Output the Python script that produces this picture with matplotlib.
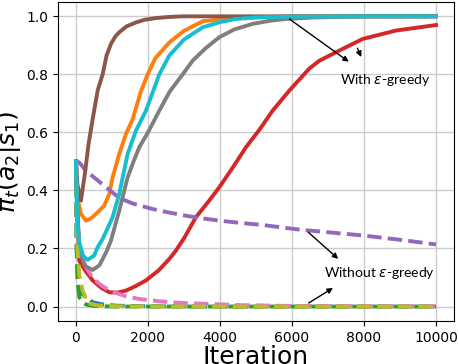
import matplotlib
matplotlib.use("Agg")
import matplotlib.pyplot as plt

# ---- data ----
# without epsilon-greedy (dashed)
blue_x = [0, 20, 46, 120, 278, 463, 700, 1111, 2000, 4000, 7000, 10000]
blue_y = [0.5, 0.2, 0.078, 0.05, 0.032, 0.015, 0.008, 0.003, 0.001, 0.0, 0.0, 0.0]
green_x = [0, 20, 60, 93, 180, 278, 500, 1000, 3000, 10000]
green_y = [0.5, 0.2, 0.07, 0.032, 0.015, 0.007, 0.002, 0.0, 0.0, 0.0]
purple_x = [0, 100, 278, 648, 1203, 1574, 2130, 2500, 3055, 3500, 3981, 4500, 5185, 6204, 7000, 7962, 9000, 10000]
purple_y = [0.503, 0.495, 0.468, 0.430, 0.374, 0.355, 0.336, 0.326, 0.313, 0.304, 0.296, 0.289, 0.281, 0.265, 0.256, 0.245, 0.230, 0.214]
pink_x = [0, 40, 93, 278, 463, 648, 926, 1389, 1759, 2315, 3000, 3704, 4500, 6000, 8000, 10000]
pink_y = [0.5, 0.33, 0.2, 0.135, 0.10, 0.078, 0.055, 0.035, 0.026, 0.018, 0.012, 0.009, 0.005, 0.002, 0.001, 0.001]
olive_x = [0, 20, 46, 93, 185, 324, 600, 1200, 3000, 10000]
olive_y = [0.5, 0.3, 0.193, 0.11, 0.055, 0.012, 0.004, 0.001, 0.0, 0.0]

# with epsilon-greedy (solid)
orange_x = [0, 30, 139, 278, 400, 556, 787, 926, 1018, 1203, 1389, 1574, 1800, 1990, 2200, 2593, 3000, 3518, 4259, 5000, 6000, 8000, 10000]
orange_y = [0.5, 0.38, 0.319, 0.296, 0.302, 0.319, 0.348, 0.388, 0.445, 0.526, 0.595, 0.645, 0.74, 0.80, 0.855, 0.910, 0.950, 0.983, 0.993, 0.997, 0.999, 1.0, 1.0]
red_x = [0, 40, 92, 250, 463, 700, 926, 1150, 1389, 1650, 1944, 2300, 2593, 2778, 3000, 3333, 3700, 3981, 4350, 4722, 5100, 5463, 5925, 6481, 6759, 7314, 7962, 8888, 10000]
red_y = [0.5, 0.33, 0.158, 0.125, 0.090, 0.065, 0.049, 0.048, 0.055, 0.07, 0.090, 0.125, 0.164, 0.193, 0.235, 0.308, 0.365, 0.411, 0.478, 0.549, 0.610, 0.675, 0.744, 0.820, 0.847, 0.882, 0.922, 0.951, 0.970]
brown_x = [0, 40, 139, 250, 350, 463, 602, 741, 850, 972, 1100, 1203, 1400, 1667, 1900, 2222, 2600, 2963, 4000, 6000, 10000]
brown_y = [0.5, 0.42, 0.365, 0.46, 0.56, 0.645, 0.744, 0.80, 0.865, 0.905, 0.932, 0.945, 0.965, 0.979, 0.988, 0.994, 0.998, 1.0, 1.0, 1.0, 1.0]
gray_x = [0, 30, 93, 250, 463, 650, 850, 972, 1203, 1435, 1600, 1759, 2000, 2315, 2600, 2963, 3240, 3600, 3981, 4400, 4907, 5400, 5833, 6574, 8000, 10000]
gray_y = [0.5, 0.35, 0.2, 0.14, 0.126, 0.142, 0.19, 0.227, 0.331, 0.445, 0.50, 0.549, 0.60, 0.675, 0.74, 0.80, 0.847, 0.89, 0.928, 0.955, 0.974, 0.985, 0.991, 0.996, 1.0, 1.0]
cyan_x = [0, 30, 93, 200, 324, 500, 602, 741, 880, 1018, 1203, 1435, 1667, 1944, 2315, 2593, 3000, 3518, 4000, 4444, 5000, 5925, 8000, 10000]
cyan_y = [0.5, 0.3, 0.22, 0.175, 0.161, 0.175, 0.204, 0.233, 0.27, 0.308, 0.388, 0.526, 0.606, 0.675, 0.80, 0.865, 0.92, 0.962, 0.980, 0.991, 0.996, 0.999, 1.0, 1.0]

series = [
    (blue_x, blue_y, "C0", "--"),
    (orange_x, orange_y, "C1", "-"),
    (green_x, green_y, "C2", "--"),
    (red_x, red_y, "C3", "-"),
    (purple_x, purple_y, "C4", "--"),
    (brown_x, brown_y, "C5", "-"),
    (pink_x, pink_y, "C6", "--"),
    (gray_x, gray_y, "C7", "-"),
    (olive_x, olive_y, "C8", "--"),
    (cyan_x, cyan_y, "C9", "-"),
]

xticks = [0, 2000, 4000, 6000, 8000, 10000]
yticks = [0.0, 0.2, 0.4, 0.6, 0.8, 1.0]

fig = plt.figure(figsize=(4.6, 3.64), dpi=100)
ax = fig.add_axes([0.126, 0.118, 0.861, 0.877])

for x, y, c, ls in series:
    ax.plot(x, y, color=c, linestyle=ls, linewidth=2.8, solid_joinstyle="round")

ax.set_xlim(-500, 10500)
ax.set_ylim(-0.05, 1.05)
ax.set_xticks(xticks)
ax.set_yticks(yticks)
ax.set_yticklabels([f"{v:.1f}" for v in yticks])
ax.tick_params(labelsize=10)
ax.grid(True, color="#cccccc", linewidth=1.0)
ax.set_xlabel("Iteration", fontsize=18, labelpad=0)
ax.set_ylabel(r"$\pi_t(a_2|s_1)$", fontsize=18, labelpad=2)

afont = dict(family="Lato", fontsize=10)
ax.text(8590, 0.782, r"With $\epsilon$-greedy", ha="center", va="center", **afont)
ax.text(8440, 0.114, r"Without $\epsilon$-greedy", ha="center", va="center", **afont)
ap = dict(arrowstyle="-|>", color="black", lw=1.0, mutation_scale=8)
ax.annotate("", xy=(7640, 0.838), xytext=(5870, 0.996), arrowprops=ap)
ax.annotate("", xy=(7953, 0.851), xytext=(7786, 0.899), arrowprops=ap)
ax.annotate("", xy=(7342, 0.158), xytext=(6397, 0.262), arrowprops=ap)
ax.annotate("", xy=(7203, 0.069), xytext=(6397, 0.007), arrowprops=ap)

fig.savefig("out.png", dpi=100)
